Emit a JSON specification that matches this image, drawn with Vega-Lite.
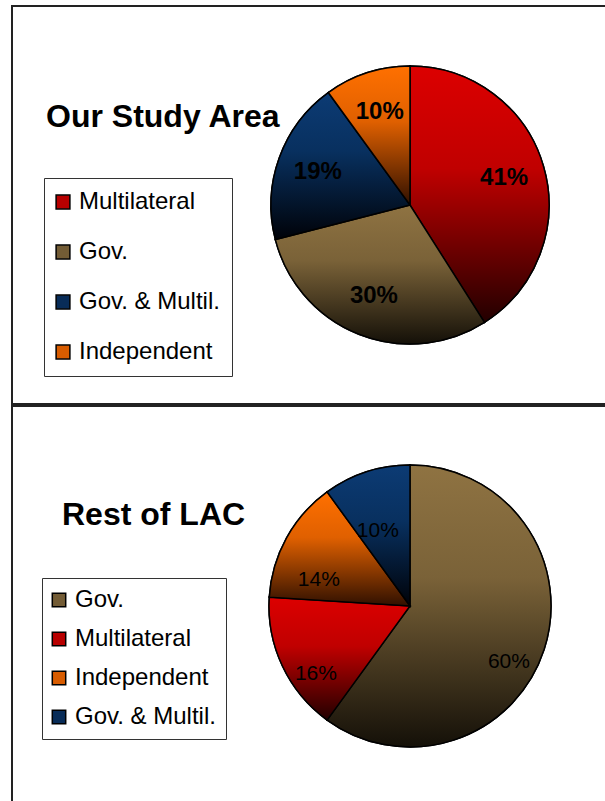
{
  "$schema": "https://vega.github.io/schema/vega-lite/v6.json",
  "padding": {"left": 11, "top": 5, "right": 0, "bottom": 0},
  "spacing": 0,
  "background": "white",
  "config": {
    "view": {"stroke": null},
    "font": "Liberation Sans"
  },
  "resolve": {"scale": {"color": "independent", "theta": "independent"}, "legend": {"color": "independent"}},
  "vconcat": [
    {
      "width": 796,
      "height": 398,
      "title": {"text": "Our Study Area", "anchor": "start", "frame": "group", "orient": "top", "offset": 0, "baseline": "alphabetic", "dx": 34, "dy": 154, "font": "Liberation Sans", "fontSize": 32, "fontWeight": "bold", "color": "black"},
      "data": {"values": [
        {"cat": "Multilateral", "pct": 0.41, "rank": 1},
        {"cat": "Gov.", "pct": 0.30, "rank": 2},
        {"cat": "Gov. & Multil.", "pct": 0.19, "rank": 3},
        {"cat": "Independent", "pct": 0.10, "rank": 4}
      ]},
      "layer": [
        {
          "data": {"values": [{"panel": "Our Study Area"}]},
          "mark": {"type": "rect", "fill": null, "stroke": "#222222", "strokeWidth": 2},
          "encoding": {}
        },
        {
          "mark": {"type": "arc", "outerRadius": 139, "stroke": "black", "strokeWidth": 1.5},
          "encoding": {
            "theta": {"field": "pct", "type": "quantitative", "stack": true},
            "order": {"field": "rank", "type": "quantitative"},
            "color": {
              "field": "cat", "type": "nominal",
              "scale": {
                "domain": ["Multilateral", "Gov.", "Gov. & Multil.", "Independent"],
                "range": ["#B80000", "#735C35", "#082C58", "#D85C00"]
              },
              "legend": {
                "orient": "none", "legendX": 32, "legendY": 172, "title": null,
                "strokeColor": "#333333", "fillColor": "white", "padding": 12,
                "labelFont": "Liberation Sans", "labelFontSize": 24, "labelColor": "black", "labelOffset": 4, "labelLimit": 300,
                "symbolType": "square", "symbolSize": 190, "symbolOffset": -5, "symbolStrokeColor": "black", "symbolStrokeWidth": 1.5, "symbolOpacity": 1,
                "rowPadding": 26
              }
            }
          }
        },
        {
          "mark": {"type": "arc", "outerRadius": 139, "stroke": "black", "strokeWidth": 1.5},
          "encoding": {
            "theta": {"field": "pct", "type": "quantitative", "stack": true},
            "order": {"field": "rank", "type": "quantitative"},
            "fill": {
              "condition": [
                {"test": "datum.cat === 'Multilateral'", "value": {"gradient": "linear", "x1": 0, "y1": 0, "x2": 0, "y2": 1, "stops": [{"offset": 0, "color": "#DC0000"}, {"offset": 0.4, "color": "#C00000"}, {"offset": 1, "color": "#220000"}]}},
                {"test": "datum.cat === 'Gov.'", "value": {"gradient": "linear", "x1": 0, "y1": 0, "x2": 0, "y2": 1, "stops": [{"offset": 0, "color": "#8F7342"}, {"offset": 0.4, "color": "#7A6238"}, {"offset": 1, "color": "#141008"}]}},
                {"test": "datum.cat === 'Gov. & Multil.'", "value": {"gradient": "linear", "x1": 0, "y1": 0, "x2": 0, "y2": 1, "stops": [{"offset": 0, "color": "#0C3B74"}, {"offset": 0.4, "color": "#08305F"}, {"offset": 1, "color": "#000208"}]}}
              ],
              "value": {"gradient": "linear", "x1": 0, "y1": 0, "x2": 0, "y2": 1, "stops": [{"offset": 0, "color": "#FF7000"}, {"offset": 0.4, "color": "#E06000"}, {"offset": 1, "color": "#301000"}]}
            }
          }
        },
        {
          "mark": {"type": "text", "radius": 98, "font": "Liberation Sans", "fontSize": 24, "fontWeight": "bold", "color": "black"},
          "encoding": {
            "theta": {"field": "pct", "type": "quantitative", "stack": true},
            "order": {"field": "rank", "type": "quantitative"},
            "detail": {"field": "cat", "type": "nominal"},
            "text": {"field": "pct", "type": "quantitative", "format": ".0%"}
          }
        }
      ]
    },
    {
      "width": 796,
      "height": 400,
      "title": {"text": "Rest of LAC", "anchor": "start", "frame": "group", "orient": "top", "offset": 0, "baseline": "alphabetic", "dx": 50, "dy": 152, "font": "Liberation Sans", "fontSize": 32, "fontWeight": "bold", "color": "black"},
      "data": {"values": [
        {"cat": "Gov.", "pct": 0.60, "rank": 1},
        {"cat": "Multilateral", "pct": 0.16, "rank": 2},
        {"cat": "Independent", "pct": 0.14, "rank": 3},
        {"cat": "Gov. & Multil.", "pct": 0.10, "rank": 4}
      ]},
      "layer": [
        {
          "data": {"values": [{"panel": "Rest of LAC"}]},
          "mark": {"type": "rect", "fill": null, "stroke": "#222222", "strokeWidth": 2},
          "encoding": {}
        },
        {
          "mark": {"type": "arc", "outerRadius": 141, "stroke": "black", "strokeWidth": 1.5},
          "encoding": {
            "theta": {"field": "pct", "type": "quantitative", "stack": true},
            "order": {"field": "rank", "type": "quantitative"},
            "color": {
              "field": "cat", "type": "nominal",
              "scale": {
                "domain": ["Gov.", "Multilateral", "Independent", "Gov. & Multil."],
                "range": ["#735C35", "#B80000", "#D85C00", "#082C58"]
              },
              "legend": {
                "orient": "none", "legendX": 30, "legendY": 172, "title": null,
                "strokeColor": "#333333", "fillColor": "white", "padding": 10,
                "labelFont": "Liberation Sans", "labelFontSize": 24, "labelColor": "black", "labelOffset": 4, "labelLimit": 300,
                "symbolType": "square", "symbolSize": 180, "symbolOffset": -5, "symbolStrokeColor": "black", "symbolStrokeWidth": 1.5, "symbolOpacity": 1,
                "rowPadding": 15
              }
            }
          }
        },
        {
          "mark": {"type": "arc", "outerRadius": 141, "stroke": "black", "strokeWidth": 1.5},
          "encoding": {
            "theta": {"field": "pct", "type": "quantitative", "stack": true},
            "order": {"field": "rank", "type": "quantitative"},
            "fill": {
              "condition": [
                {"test": "datum.cat === 'Multilateral'", "value": {"gradient": "linear", "x1": 0, "y1": 0, "x2": 0, "y2": 1, "stops": [{"offset": 0, "color": "#DC0000"}, {"offset": 0.4, "color": "#C00000"}, {"offset": 1, "color": "#220000"}]}},
                {"test": "datum.cat === 'Gov.'", "value": {"gradient": "linear", "x1": 0, "y1": 0, "x2": 0, "y2": 1, "stops": [{"offset": 0, "color": "#8F7342"}, {"offset": 0.4, "color": "#7A6238"}, {"offset": 1, "color": "#141008"}]}},
                {"test": "datum.cat === 'Gov. & Multil.'", "value": {"gradient": "linear", "x1": 0, "y1": 0, "x2": 0, "y2": 1, "stops": [{"offset": 0, "color": "#0C3B74"}, {"offset": 0.4, "color": "#08305F"}, {"offset": 1, "color": "#000208"}]}}
              ],
              "value": {"gradient": "linear", "x1": 0, "y1": 0, "x2": 0, "y2": 1, "stops": [{"offset": 0, "color": "#FF7000"}, {"offset": 0.4, "color": "#E06000"}, {"offset": 1, "color": "#301000"}]}
            }
          }
        },
        {
          "mark": {"type": "text", "radius": 104, "dy": 24, "font": "Liberation Sans", "fontSize": 21, "color": "black"},
          "encoding": {
            "theta": {"field": "pct", "type": "quantitative", "stack": true},
            "order": {"field": "rank", "type": "quantitative"},
            "detail": {"field": "cat", "type": "nominal"},
            "text": {"field": "pct", "type": "quantitative", "format": ".0%"}
          }
        }
      ]
    }
  ]
}
